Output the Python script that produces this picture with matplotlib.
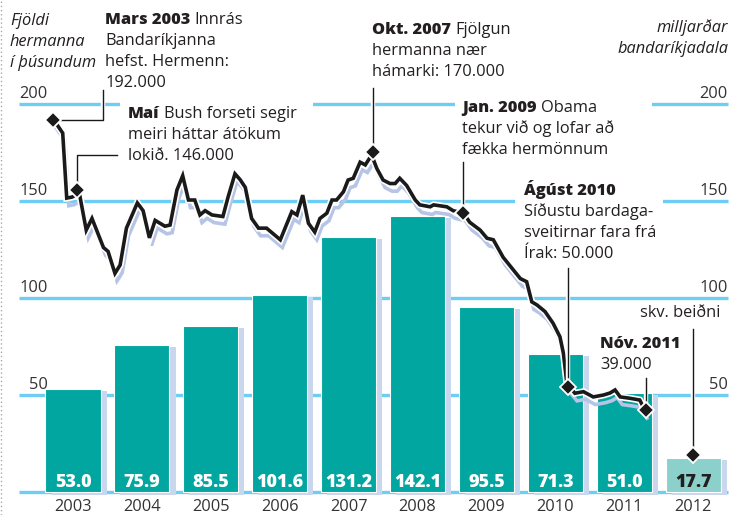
import matplotlib
matplotlib.use("Agg")
import matplotlib.pyplot as plt
import matplotlib.patheffects as pe
from matplotlib.lines import Line2D
from matplotlib.patches import Rectangle
from matplotlib.transforms import offset_copy

plt.rcParams['font.family'] = ['Open Sans', 'DejaVu Sans']

# Útgjöld, milljarðar bandaríkjadala
years = [2003, 2004, 2005, 2006, 2007, 2008, 2009, 2010, 2011, 2012]
spending = [53.0, 75.9, 85.5, 101.6, 131.2, 142.1, 95.5, 71.3, 51.0, 17.7]
spending_labels = ["53.0", "75.9", "85.5", "101.6", "131.2", "142.1", "95.5", "71.3", "51.0", "17.7"]

# Fjöldi hermanna í þúsundum (x = mánuðir frá jan. 2003)
troop_months = [2.6, 4.2, 4.9, 5.8, 7.1, 8.3, 9.3, 11.3, 12.1, 13.3, 14.2, 15.3, 17.2, 18.2,
                19.3, 20.3, 22.0, 22.9, 24.1, 25.1, 26.1, 27.2, 28.1, 29.0, 30.2, 32.1, 33.0,
                34.2, 35.1, 36.0, 37.1, 38.3, 39.7, 42.1, 44.1, 45.0, 46.0, 47.0, 48.1, 49.0,
                50.2, 51.1, 51.9, 53.1, 53.9, 54.8, 56.0, 56.9, 58.0, 58.9, 60.0, 61.2, 62.1,
                62.9, 64.1, 65.6, 66.4, 68.2, 68.8, 71.1, 72.2, 74.0, 75.1, 76.9, 78.1, 79.2,
                80.9, 82.7, 83.9, 85.0, 85.9, 86.8, 88.2, 89.6, 90.8, 91.4, 92.0, 93.4, 94.9,
                96.6, 98.4, 99.5, 100.4, 101.3, 103.0, 104.7, 105.3, 105.6]
troop_values = [192, 185, 151.5, 152, 154, 135, 141, 126, 124, 112.7, 117, 136, 149, 145,
                131, 140, 137, 137.6, 155.7, 163, 150.5, 150.5, 142.8, 145, 142.8, 142, 152,
                164, 161, 157, 141, 136, 136, 130, 144.5, 142.8, 153, 138.5, 134, 141,
                143.7, 150.5, 150.5, 154.8, 160.8, 161.7, 170, 168.6, 173.7, 166.8, 160.8, 159, 159,
                161.7, 158, 150.5, 148, 147, 148, 147, 145, 143.7, 139, 135, 130.8, 130,
                121, 114.4, 110, 108.4, 98, 96.4, 93, 87, 80, 71.5, 56, 50.9, 51.7,
                49, 50, 51, 52.6, 49, 48.3, 47.4, 44, 42]

# Atburðir: Mars 2003, Maí 2003, Okt. 2007, Jan. 2009, Ágúst 2010, Nóv. 2011, 2012
event_months = [2.5, 6.7, 58.3, 73.9, 92.2, 105.8, 114.0]
event_values = [191.8, 155.7, 175.3, 143.8, 54.1, 42.3, 19.1]

TEAL = '#00a69f'
TEAL_LIGHT = '#8bd0ca'
BAR_SHADOW = '#c8d6ee'
GRID = '#6dcdf3'
LINE_SHADOW = '#b6c4e6'
TEXT = '#231f20'
FS = 11.8

fig = plt.figure(figsize=(7.33, 5.15), dpi=100)
ax = fig.add_axes([0, 0, 1, 1])
ax.set_xlim(-6.72, 120.94)
ax.set_ylim(-11.86, 253.6)
ax.axis('off')

# gridlines
ax.hlines([0, 50, 100, 150, 200], -3.4, 120.1, color=GRID, lw=2.4, zorder=1)
for v in [50, 100, 150, 200]:
    ax.text(1.6, v + 3, str(v), ha='right', va='baseline', fontsize=FS,
            color='#333333', zorder=2)
    ax.text(120.0, v + 3, str(v), ha='right', va='baseline', fontsize=FS,
            color='#333333', zorder=2)

# bars
centers = [(y - 2003) * 12 + 6 for y in years]
width = 9.6
ax.bar([c + 1.05 for c in centers], [s + 0.5 for s in spending], bottom=-1.5,
       width=width, color=BAR_SHADOW, zorder=2)
bar_colors = [TEAL] * 9 + [TEAL_LIGHT]
ax.bar(centers, spending, width=width, color=bar_colors, edgecolor='white',
       linewidth=0.8, zorder=3)
for c, lab, col in zip(centers, spending_labels, bar_colors):
    ax.text(c, 2.6, lab, ha='center', va='baseline', fontsize=13, fontweight=800,
            color='white' if col == TEAL else TEXT, zorder=4)
for c, y in zip(centers, years):
    ax.text(c, -9.9, str(y), ha='center', va='baseline', fontsize=FS, color='#333333')

# white boxes behind text blocks (cut the gridlines)
for x0, x1, y0, y1 in [(14.2, 47.8, 168, 203), (72.5, 106.9, 168.6, 203),
                       (83.0, 108.8, 118.6, 163)]:
    ax.add_patch(Rectangle((x0, y0), x1 - x0, y1 - y0, fc='white', ec='none', zorder=1.5))

# troop line with shadow
shadow_tr = offset_copy(ax.transData, fig=fig, x=1.5, y=-5.5, units='points')
ax.plot(troop_months, troop_values, color=LINE_SHADOW, lw=2.6, transform=shadow_tr,
        solid_joinstyle='miter', zorder=5)
ax.plot(troop_months, troop_values, color='#1a1a1a', lw=2.6, solid_joinstyle='miter',
        zorder=6, path_effects=[pe.Stroke(linewidth=5, foreground='white'), pe.Normal()])

# leader lines
leaders = [
    ([2.5, 11.2, 11.2], [191.8, 191.8, 207.2]),
    ([6.7, 6.7, 13.7], [155.7, 173.7, 173.7]),
    ([58.3, 58.3], [175.3, 208.2]),
    ([73.9, 73.9], [143.8, 170.1]),
    ([92.2, 92.2], [54.1, 115.5]),
    ([105.8, 105.8], [42.3, 58.8]),
    ([114.0, 114.0], [19.1, 84.0]),
]
for xs, ys in leaders:
    ax.plot(xs, ys, color='#1a1a1a', lw=1.0, zorder=7,
            path_effects=[pe.Stroke(linewidth=3.2, foreground='white'), pe.Normal()])

ax.plot(event_months, event_values, ls='none', marker='D', markersize=8.5,
        color='#1a1a1a', mec='white', mew=1.3, zorder=8)

LINE = 15.0


def note(x, y, head, first="", lines=()):
    t = ax.text(x, y, head, fontsize=FS, fontweight=800, va='baseline', color=TEXT, zorder=9)
    if first:
        ax.annotate(first, xy=(1, 0), xycoords=t, xytext=(3.2, 0), textcoords='offset points',
                    va='bottom', fontsize=FS, color=TEXT, zorder=9)
    for i, line in enumerate(lines, 1):
        ax.annotate(line, xy=(x, y), xytext=(0, -LINE * i), textcoords='offset points',
                    va='baseline', fontsize=FS, color=TEXT, zorder=9)


note(11.57, 241.2, "Mars 2003", "Innrás", ["Bandaríkjanna", "hefst. Hermenn:", "192.000"])
note(15.57, 192.8, "Maí", "Bush forseti segir", ["meiri háttar átökum", "lokið. 146.000"])
note(58.0, 236.1, "Okt. 2007", "Fjölgun", ["hermanna nær", "hámarki: 170.000"])
note(73.7, 195.9, "Jan. 2009", "Obama", ["tekur við og lofar að", "fækka hermönnum"])
note(84.5, 153.0, "Ágúst 2010", "", ["Síðustu bardaga-", "sveitirnar fara frá", "Írak: 50.000"])
note(97.8, 74.2, "Nóv. 2011", "", ["39.000"])
ax.text(118.7, 90.2, "skv. beiðni", ha='right', va='baseline', fontsize=FS, color=TEXT, zorder=9)

# axis titles
for i, line in enumerate(["Fjöldi", "hermanna", "í þúsundum"]):
    ax.annotate(line, xy=(-4.98, 240.7), xytext=(0, -LINE * i), textcoords='offset points',
                va='baseline', fontsize=FS, style='italic', color=TEXT)
for i, line in enumerate(["milljarðar", "bandaríkjadala"]):
    ax.annotate(line, xy=(120.1, 237.1), xytext=(0, -LINE * i), textcoords='offset points',
                ha='right', va='baseline', fontsize=FS, style='italic', color=TEXT)

fig.add_artist(Line2D([0.002, 0.002], [0, 1], ls=(0, (1, 2)), color='#aaaaaa', lw=1))

fig.savefig("out.png", dpi=100)
